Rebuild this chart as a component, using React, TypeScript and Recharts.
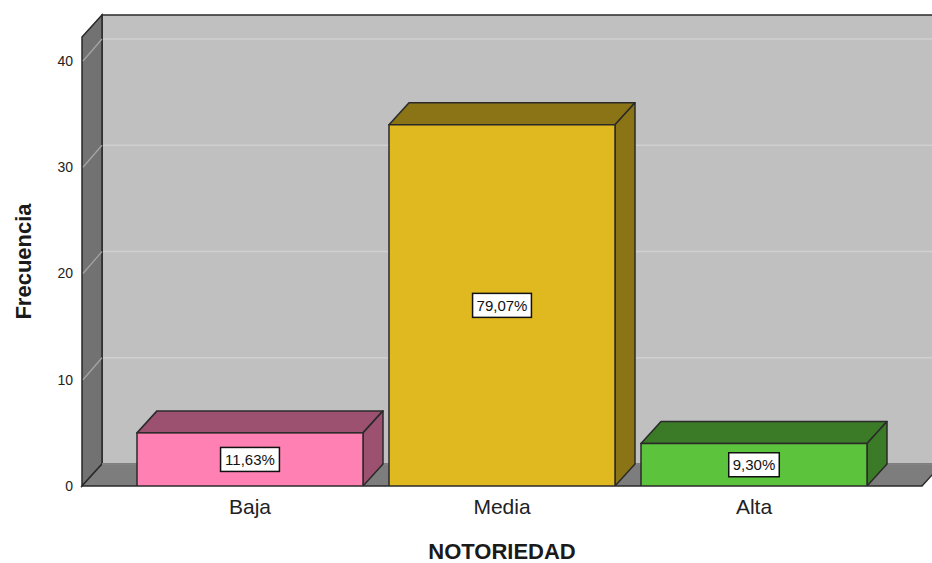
import { BarChart, Bar, XAxis, YAxis, LabelList, Label, usePlotArea } from 'recharts';

const categorias = ['Baja', 'Media', 'Alta'];
const frecuencias = [5, 34, 4];
const porcentajes = ['11,63%', '79,07%', '9,30%'];
const yTicks = [0, 10, 20, 30, 40];

const frontColors = ['#ff80b2', '#e0b820', '#5cc33c'];
const shadeColors = ['#9c5170', '#8a7416', '#3b7a27'];

const data = categorias.map((c, i) => ({ name: c, value: frecuencias[i], pct: porcentajes[i] }));

const DX = 20;
const DY = 22;
const YMAX = 42.26;
const FONT = '"Liberation Sans", Arial, sans-serif';
const EDGE = '#2a2a2a';

// back wall, left wall, floor and the grid lines of the 3D box
const Walls = () => {
  const area = usePlotArea();
  if (!area) return null;
  const { x, y, width: w, height: h } = area;
  const b = y + h;
  const toY = (v: number) => b - (v / YMAX) * h;
  return (
    <g>
      <rect x={x + DX} y={y - DY} width={w + 40} height={h} fill="#c0c0c0" stroke={EDGE} strokeWidth={1.5} />
      <polygon
        points={`${x},${y} ${x + DX},${y - DY} ${x + DX},${b - DY} ${x},${b}`}
        fill="#727272" stroke={EDGE} strokeWidth={1.5}
      />
      {yTicks.filter((v) => v > 0).map((v) => (
        <g key={v}>
          <line x1={x + DX + 1} y1={toY(v) - DY} x2={x + w + DX + 40} y2={toY(v) - DY} stroke="#d0d0d0" strokeWidth={1.5} />
          <line x1={x + 1} y1={toY(v)} x2={x + DX} y2={toY(v) - DY} stroke="#a6a6a6" strokeWidth={1.2} />
        </g>
      ))}
      <polygon
        points={`${x},${b} ${x + DX},${b - DY} ${x + w + DX},${b - DY} ${x + w},${b}`}
        fill="#7d7d7d" stroke={EDGE} strokeWidth={1.5}
      />
      <line x1={x + DX} y1={b - DY} x2={x + w + DX} y2={b - DY} stroke="#9a9a9a" strokeWidth={1.5} />
    </g>
  );
};

const Bar3D = (props: any) => {
  const { x, y, width: w, height: h, index } = props;
  const front = frontColors[index % frontColors.length];
  const shade = shadeColors[index % shadeColors.length];
  return (
    <g>
      <polygon
        points={`${x},${y} ${x + DX},${y - DY} ${x + w + DX},${y - DY} ${x + w},${y}`}
        fill={shade} stroke={EDGE} strokeWidth={1.5} strokeLinejoin="round"
      />
      <polygon
        points={`${x + w},${y} ${x + w + DX},${y - DY} ${x + w + DX},${y + h - DY} ${x + w},${y + h}`}
        fill={shade} stroke={EDGE} strokeWidth={1.5} strokeLinejoin="round"
      />
      <rect x={x} y={y} width={w} height={h} fill={front} stroke={EDGE} strokeWidth={1.5} />
    </g>
  );
};

const textWidth = (s: string, size: number) => {
  let wsum = 0;
  for (const ch of s) {
    if (ch === ',') wsum += 0.278;
    else if (ch === '%') wsum += 0.889;
    else wsum += 0.556;
  }
  return wsum * size;
};

const PctLabel = (props: any) => {
  const vb = props.viewBox ?? props;
  const { x, y, width: w, height: h } = vb;
  const value = String(props.value);
  const fs = 15;
  const tw = textWidth(value, fs) + 8;
  const cx = x + w / 2;
  const cy = y + h / 2;
  return (
    <g>
      <rect x={cx - tw / 2} y={cy - 12} width={tw} height={24} fill="#ffffff" stroke="#111" strokeWidth={1.5} />
      <text x={cx} y={cy + 5.5} textAnchor="middle" fontSize={fs} fontFamily={FONT} fill="#111">
        {value}
      </text>
    </g>
  );
};

const YTitle = (props: any) => {
  const vb = props.viewBox;
  const tx = vb.x + 31;
  const ty = vb.y + vb.height / 2;
  return (
    <text
      x={tx} y={ty} transform={`rotate(-90, ${tx}, ${ty})`}
      textAnchor="middle" fontSize={22} fontWeight="bold" fontFamily={FONT} fill="#1a1a1a"
    >
      Frecuencia
    </text>
  );
};

export default function App() {
  return (
    <div style={{ position: 'absolute', left: 0, top: 0, width: 932, height: 563, background: '#fff', overflow: 'hidden' }}>
      <BarChart
        width={932}
        height={563}
        data={data}
        margin={{ top: 37, right: 10, bottom: 0, left: 0 }}
        barSize={226}
      >
        <Walls />
        <XAxis
          dataKey="name"
          height={77}
          padding={{ left: 42, right: 42 }}
          axisLine={false}
          tickLine={false}
          tickMargin={7}
          tick={{ fontSize: 21, fill: '#222', fontFamily: FONT }}
        >
          <Label value="NOTORIEDAD" position="insideBottom" offset={4}
            style={{ fontSize: 22, fontWeight: 'bold', fill: '#1a1a1a', fontFamily: FONT }} />
        </XAxis>
        <YAxis
          width={82}
          domain={[0, YMAX]}
          ticks={yTicks}
          allowDataOverflow
          axisLine={false}
          tickLine={false}
          tickMargin={3}
          tick={{ fontSize: 14, fill: '#222', fontFamily: FONT }}
        >
          <Label content={YTitle} />
        </YAxis>
        <Bar dataKey="value" shape={Bar3D} isAnimationActive={false}>
          <LabelList dataKey="pct" content={PctLabel} />
        </Bar>
      </BarChart>
    </div>
  );
}
